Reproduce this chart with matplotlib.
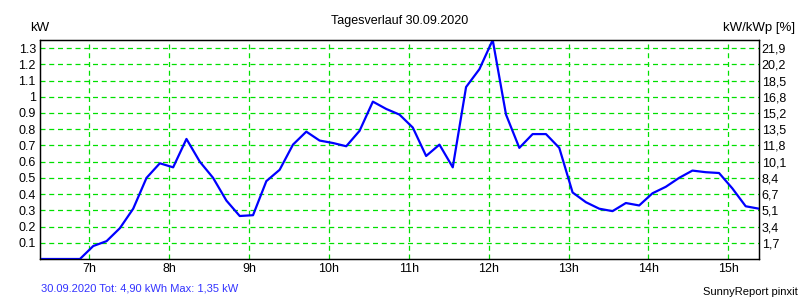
import numpy as np
import matplotlib
matplotlib.use("Agg")
import matplotlib.pyplot as plt

plt.rcParams['font.family'] = ['Liberation Sans', 'DejaVu Sans']

# 10 minute values, 06:23 .. 15:23
times = ["06:23", "06:33", "06:43", "06:53", "07:03", "07:13", "07:23", "07:33", "07:43", "07:53",
         "08:03", "08:13", "08:23", "08:33", "08:43", "08:53", "09:03", "09:13", "09:23", "09:33",
         "09:43", "09:53", "10:03", "10:13", "10:23", "10:33", "10:43", "10:53", "11:03", "11:13",
         "11:23", "11:33", "11:43", "11:53", "12:03", "12:13", "12:23", "12:33", "12:43", "12:53",
         "13:03", "13:13", "13:23", "13:33", "13:43", "13:53", "14:03", "14:13", "14:23", "14:33",
         "14:43", "14:53", "15:03", "15:13", "15:23"]
power_kw = [0, 0, 0, 0, 0.08, 0.11, 0.19, 0.31, 0.50, 0.59,
            0.565, 0.74, 0.60, 0.50, 0.36, 0.265, 0.27, 0.48, 0.55, 0.705,
            0.785, 0.73, 0.715, 0.695, 0.79, 0.97, 0.925, 0.89, 0.81, 0.635,
            0.705, 0.565, 1.06, 1.17, 1.35, 0.89, 0.685, 0.77, 0.77, 0.685,
            0.41, 0.35, 0.31, 0.295, 0.345, 0.33, 0.405, 0.445, 0.50, 0.545,
            0.535, 0.53, 0.435, 0.325, 0.31]

hour_ticks = [7, 8, 9, 10, 11, 12, 13, 14, 15]
hour_labels = ["7h", "8h", "9h", "10h", "11h", "12h", "13h", "14h", "15h"]
kw_ticks = [0.1, 0.2, 0.3, 0.4, 0.5, 0.6, 0.7, 0.8, 0.9, 1.0, 1.1, 1.2, 1.3]
kw_labels = ["0.1", "0.2", "0.3", "0.4", "0.5", "0.6", "0.7", "0.8", "0.9", "1", "1.1", "1.2", "1.3"]
pct_labels = ["1,7", "3,4", "5,1", "6,7", "8,4", "10,1", "11,8", "13,5", "15,2", "16,8", "18,5", "20,2", "21,9"]

hours = [int(t[:2]) + int(t[3:]) / 60 for t in times]

fig = plt.figure(figsize=(8, 3), dpi=100)
ax = fig.add_axes([0.05, 0.1367, 0.89875, 0.73])

grid_kw = dict(color='#00e000', linestyle=(0, (4, 3)), linewidth=0.9)
for h in hour_ticks:
    ax.axvline(h, **grid_kw, zorder=1)
for v in kw_ticks:
    ax.axhline(v, **grid_kw, zorder=1)

ax.plot(hours, power_kw, color='#0000ff', linewidth=1.6, zorder=3)

ax.set_xlim(hours[0], hours[-1])
ax.set_ylim(0, 1.35)
ax.set_xticks(hour_ticks)
ax.set_xticklabels(hour_labels, fontsize=9)
ax.set_yticks(kw_ticks)
ax.set_yticklabels(kw_labels, fontsize=9)
ax.tick_params(length=0, pad=3)
for s in ax.spines.values():
    s.set_linewidth(0.9)

ax2 = ax.twinx()
ax2.set_ylim(ax.get_ylim())
ax2.set_yticks(kw_ticks)
ax2.set_yticklabels(pct_labels, fontsize=9)
ax2.tick_params(length=0, pad=2)
for s in ax2.spines.values():
    s.set_linewidth(0.9)

fig.text(0.5, 0.931, "Tagesverlauf 30.09.2020", ha='center', va='center', fontsize=9)
fig.text(0.0495, 0.907, "kW", ha='center', va='center', fontsize=9.5)
fig.text(0.994, 0.907, "kW/kWp [%]", ha='right', va='center', fontsize=9.5)
fig.text(0.051, 0.037, "30.09.2020 Tot: 4,90 kWh Max: 1,35 kW", ha='left', va='center',
         fontsize=8, color='#3333ff')
fig.text(0.997, 0.027, "SunnyReport pinxit", ha='right', va='center', fontsize=8)

fig.savefig("out.png", dpi=100)
